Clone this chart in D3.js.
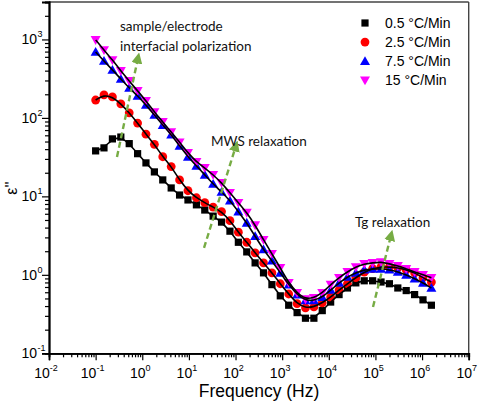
<!DOCTYPE html>
<html><head><meta charset="utf-8">
<script src="https://cdn.jsdelivr.net/npm/d3@7"></script>
<style>html,body{margin:0;padding:0;background:#fff;}svg{display:block;}</style>
</head><body>
<svg id="c" width="480" height="404"></svg>
<script>
const freq = [0.1, 0.151, 0.229, 0.347, 0.525, 0.794, 1.2, 1.82, 2.75, 4.17, 6.31, 9.55, 14.5, 21.9, 33.1, 50.1, 75.9, 115, 174, 263, 398, 603, 912, 1380, 2090, 3160, 4790, 7240, 10960, 16600, 25100, 38000, 57500, 87100, 131800, 199500, 302000, 457000, 692000, 1047000, 1585000];
const black = [38, 41.5, 54, 57, 47, 35, 26.7, 20.5, 16.2, 12.8, 10.4, 9.0, 7.8, 6.7, 5.6, 4.7, 3.6, 2.6, 1.96, 1.42, 1.06, 0.75, 0.54, 0.41, 0.33, 0.28, 0.28, 0.35, 0.45, 0.56, 0.68, 0.79, 0.84, 0.84, 0.81, 0.77, 0.68, 0.63, 0.56, 0.48, 0.41];
const red = [169, 196, 185, 151, 116, 86, 62, 46, 32, 24, 16.2, 11.8, 9.6, 8.3, 7.3, 6.4, 4.9, 3.5, 2.6, 1.91, 1.42, 1.06, 0.77, 0.57, 0.43, 0.38, 0.39, 0.44, 0.52, 0.64, 0.77, 0.92, 1.08, 1.2, 1.26, 1.26, 1.23, 1.16, 1.06, 0.92, 0.81];
const blue = [693, 532, 409, 314, 241, 191, 146, 109, 81, 61, 44, 31.9, 24.5, 18.8, 14.4, 11.4, 8.8, 6.4, 4.6, 3.1, 2.1, 1.51, 1.06, 0.75, 0.56, 0.47, 0.47, 0.52, 0.64, 0.79, 0.94, 1.06, 1.16, 1.19, 1.19, 1.16, 1.09, 1.0, 0.89, 0.79, 0.68];
const magenta = [986, 735, 548, 397, 296, 221, 165, 119, 89, 66, 49, 35.8, 27.5, 23.1, 18.8, 14.9, 11.1, 8.3, 6.2, 4.3, 2.8, 1.85, 1.23, 0.79, 0.59, 0.49, 0.51, 0.59, 0.75, 0.92, 1.09, 1.26, 1.38, 1.42, 1.46, 1.38, 1.30, 1.19, 1.09, 1.0, 0.92];
const seriesNames = ["0.5 °C/Min", "2.5 °C/Min", "7.5 °C/Min", "15 °C/Min"];
const seriesColors = ["#000000", "#ff0000", "#0000ff", "#ff00ff"];
const seriesShapes = ["square", "circle", "triangleUp", "triangleDown"];
const xTickExps = [-2, -1, 0, 1, 2, 3, 4, 5, 6, 7];
const yTickExps = [-1, 0, 1, 2, 3];
const annotations = ["sample/electrode", "interfacial polarization", "MWS relaxation", "Tg relaxation"];
const arrows = [[[0.287, 31.8], [0.81, 581]], [[21.1, 2.21], [102, 44]], [[88700, 0.39], [216000, 3.2]]];

const svg = d3.select("#c");
const L = 49, R = 468.7, T = 2, B = 353.3;
const x = d3.scaleLog().domain([0.01, 1e7]).range([L, R]);
const y = d3.scaleLog().domain([0.1, 3000]).range([B, T]);
const axisFont = "'Liberation Sans', Arial, sans-serif";
const annFont = "Lato, 'Open Sans', sans-serif";

// frame
svg.append("line").attr("x1", L).attr("x2", R).attr("y1", T).attr("y2", T).attr("stroke", "#444").attr("stroke-width", 1.4);
svg.append("line").attr("x1", R).attr("x2", R).attr("y1", T).attr("y2", B).attr("stroke", "#444").attr("stroke-width", 1.4);

// x axis
const xMinor = [];
for (let e = -2; e < 7; e++) for (let m = 2; m <= 9; m++) xMinor.push(m * Math.pow(10, e));
const xAxis = svg.append("g").attr("transform", `translate(0,${B})`);
xAxis.call(d3.axisBottom(x).tickValues(xMinor).tickSize(4).tickFormat(""));
xAxis.append("g").call(d3.axisBottom(x).tickValues(xTickExps.map(e => Math.pow(10, e))).tickSize(7).tickFormat(""));
xAxis.selectAll("path.domain").attr("stroke", "#000").attr("stroke-width", 1.8);
xAxis.selectAll(".tick line").attr("stroke", "#000").attr("stroke-width", 1.2);
xTickExps.forEach(e => {
  const t = svg.append("text").attr("x", x(Math.pow(10, e)) - (e < 0 ? 3 : 2)).attr("y", 377.5)
    .attr("text-anchor", "middle").attr("font-family", axisFont).attr("font-size", 14).attr("fill", "#000");
  t.append("tspan").text("10");
  t.append("tspan").attr("font-size", 9).attr("dy", -7).text(e < 0 ? "-" + (-e) : String(e));
});
svg.append("text").attr("x", 259).attr("y", 397).attr("text-anchor", "middle")
  .attr("font-family", axisFont).attr("font-size", 17.5).attr("fill", "#000").text("Frequency (Hz)");

// y axis
const yMinor = [];
for (let e = -1; e < 4; e++) for (let m = 2; m <= 9; m++) { const v = m * Math.pow(10, e); if (v <= 3000) yMinor.push(v); }
const yAxis = svg.append("g").attr("transform", `translate(${L},0)`);
yAxis.call(d3.axisLeft(y).tickValues(yMinor).tickSize(4).tickFormat(""));
yAxis.append("g").call(d3.axisLeft(y).tickValues(yTickExps.map(e => Math.pow(10, e))).tickSize(7).tickFormat(""));
yAxis.selectAll("path.domain").attr("stroke", "#000").attr("stroke-width", 1.8);
yAxis.selectAll(".tick line").attr("stroke", "#000").attr("stroke-width", 1.2);
yTickExps.forEach(e => {
  svg.append("text").attr("x", 37).attr("y", y(Math.pow(10, e)) + 5)
    .attr("text-anchor", "end").attr("font-family", axisFont).attr("font-size", 14).attr("fill", "#000").text("10");
  svg.append("text").attr("x", 37.5).attr("y", y(Math.pow(10, e)) - 2)
    .attr("text-anchor", "start").attr("font-family", axisFont).attr("font-size", 9).attr("fill", "#000")
    .text(e < 0 ? "-" + (-e) : String(e));
});
svg.append("text").attr("transform", "translate(17,188) rotate(-90)").attr("text-anchor", "middle")
  .attr("font-family", axisFont).attr("font-size", 16).attr("fill", "#000").text("ε''");

// markers
const allSeries = [black, red, blue, magenta];
function drawShape(g, shape, cx, cy, color) {
  if (shape === "square") g.append("rect").attr("x", cx - 3.6).attr("y", cy - 3.6).attr("width", 7.2).attr("height", 7.2).attr("fill", color);
  else if (shape === "circle") g.append("circle").attr("cx", cx).attr("cy", cy).attr("r", 4.4).attr("fill", color);
  else if (shape === "triangleUp") g.append("path").attr("d", `M${cx},${cy - 5} L${cx + 5},${cy + 3.8} L${cx - 5},${cy + 3.8} Z`).attr("fill", color);
  else g.append("path").attr("d", `M${cx},${cy + 5} L${cx + 5},${cy - 3.8} L${cx - 5},${cy - 3.8} Z`).attr("fill", color);
}
const mg = svg.append("g");
allSeries.forEach((s, k) => {
  s.forEach((v, i) => { if (v != null) drawShape(mg, seriesShapes[k], x(freq[i]), y(v), seriesColors[k]); });
});
// fit lines
const line = d3.line().x(d => x(d[0])).y(d => y(d[1])).curve(d3.curveBasis);
allSeries.forEach(s => {
  svg.append("path").datum(freq.map((f, i) => [f, s[i]])).attr("d", line)
    .attr("fill", "none").attr("stroke", "#000").attr("stroke-width", 1.6);
});

// arrows
const defs = svg.append("defs");
defs.append("marker").attr("id", "ah").attr("viewBox", "0 0 10 10").attr("refX", 5).attr("refY", 5)
  .attr("markerWidth", 4.6).attr("markerHeight", 4.6).attr("orient", "auto").attr("markerUnits", "strokeWidth")
  .append("path").attr("d", "M0,0 L10,5 L0,10 Z").attr("fill", "#77ac44");
arrows.forEach(a => {
  svg.append("line").attr("x1", x(a[0][0])).attr("y1", y(a[0][1])).attr("x2", x(a[1][0])).attr("y2", y(a[1][1]))
    .attr("stroke", "#77ac44").attr("stroke-width", 2.4).attr("stroke-dasharray", "6,3.5").attr("marker-end", "url(#ah)");
});

// annotations
const annPos = [[120, 31], [120, 51], [211, 146], [355, 227]];
annotations.forEach((t, i) => {
  svg.append("text").attr("x", annPos[i][0]).attr("y", annPos[i][1]).attr("font-family", annFont)
    .attr("font-size", 13.5).attr("fill", "#111").text(t);
});

// legend
const lg = svg.append("g");
seriesNames.forEach((n, k) => {
  const cy = 23 + k * 19.1;
  drawShape(lg, seriesShapes[k], 365, cy, seriesColors[k]);
  lg.append("text").attr("x", 385).attr("y", cy + 5).attr("font-family", axisFont).attr("font-size", 14)
    .attr("fill", "#000").text(n);
});
</script>
</body></html>
